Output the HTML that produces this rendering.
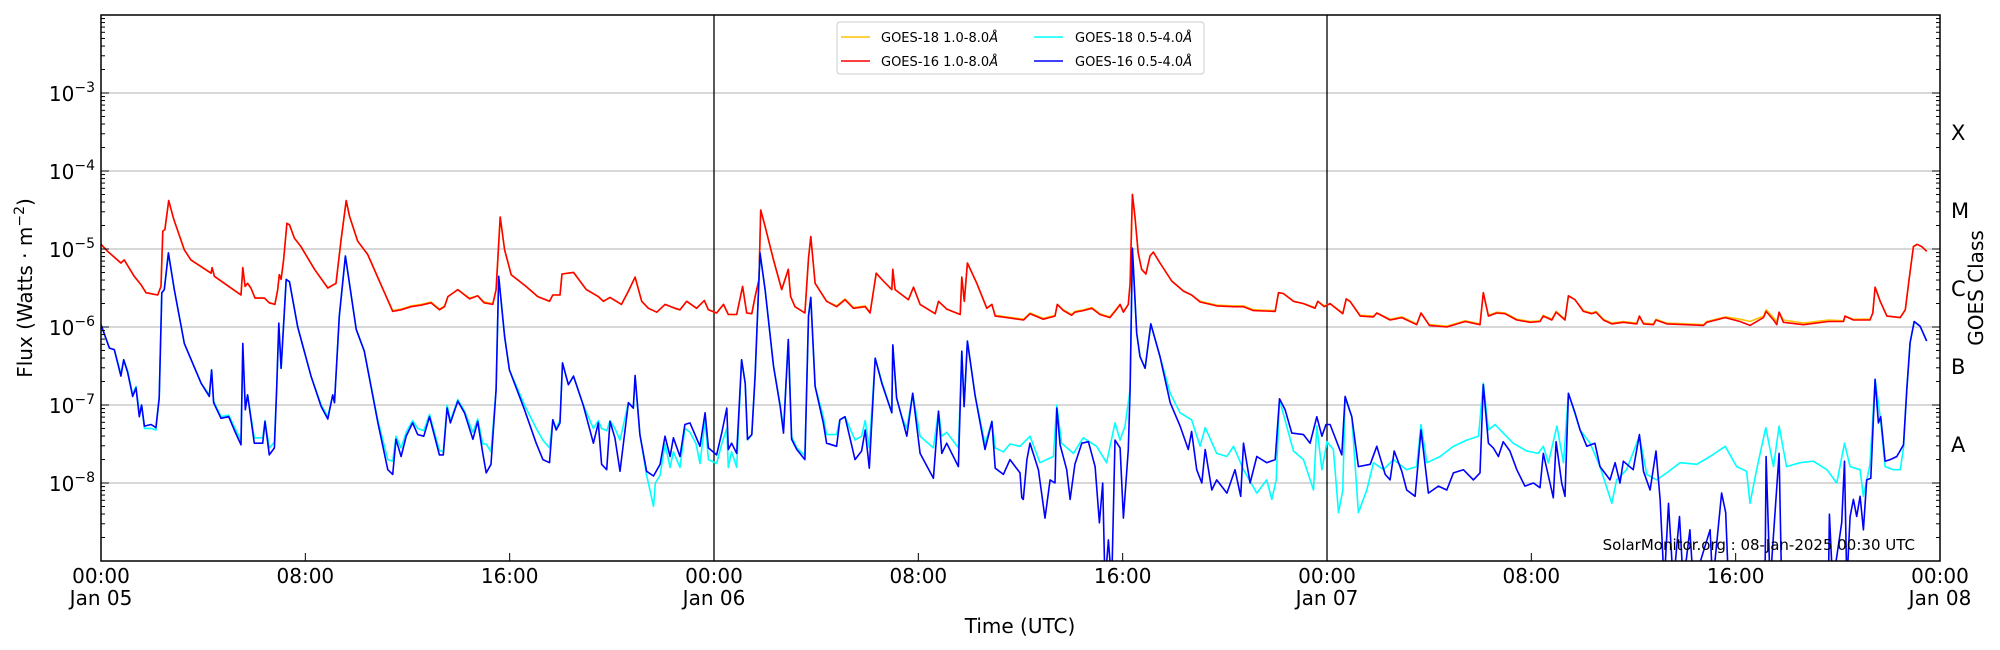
<!DOCTYPE html>
<html><head><meta charset="utf-8"><style>
html,body{margin:0;padding:0;background:#fff;}
svg{display:block;font-family:"DejaVu Sans","Liberation Sans",sans-serif;}
</style></head><body>
<svg id="chart" width="2000" height="650" viewBox="0 0 2000 650" xmlns="http://www.w3.org/2000/svg">
<rect x="0" y="0" width="2000" height="650" fill="#fff"/>
<defs><clipPath id="plotclip"><rect x="101" y="15" width="1839" height="546"/></clipPath></defs>
<g id="grid"></g>
<g id="vlines"></g>
<g id="series" clip-path="url(#plotclip)"></g>
<g id="axes"></g>
<text x="1915" y="550" font-size="15" text-anchor="end" fill="#000">SolarMonitor.org : 08-Jan-2025 00:30 UTC</text>
<text x="1020" y="633" font-size="20" text-anchor="middle">Time (UTC)</text>
<text transform="translate(32,288) rotate(-90)" font-size="20" text-anchor="middle">Flux (Watts · m<tspan dy="-8" font-size="14">−2</tspan><tspan dy="8">)</tspan></text>
<text transform="translate(1983,288) rotate(-90)" font-size="20" text-anchor="middle">GOES Class</text>
<g>
<rect x="837" y="22" width="367" height="52" rx="3" fill="#fff" stroke="#ccc" stroke-width="1"/>
<g><line x1="841" y1="37" x2="870" y2="37" stroke="#ffc000" stroke-width="1.5"/><text x="881" y="42" font-size="13">GOES-18 1.0-8.0<tspan font-style="italic">Å</tspan></text></g>
<g><line x1="841" y1="61" x2="870" y2="61" stroke="#ff0000" stroke-width="1.5"/><text x="881" y="66" font-size="13">GOES-16 1.0-8.0<tspan font-style="italic">Å</tspan></text></g>
<g><line x1="1034" y1="37" x2="1063" y2="37" stroke="#00ffff" stroke-width="1.5"/><text x="1075" y="42" font-size="13">GOES-18 0.5-4.0<tspan font-style="italic">Å</tspan></text></g>
<g><line x1="1034" y1="61" x2="1063" y2="61" stroke="#0000ff" stroke-width="1.5"/><text x="1075" y="66" font-size="13">GOES-16 0.5-4.0<tspan font-style="italic">Å</tspan></text></g>
</g>
</svg>
<script>
// values are [hours since Jan 05 00:00, log10(flux W/m^2)]
const xTickHours = [0, 8, 16, 24, 32, 40, 48, 56, 64, 72];
const xTickTimes = ["00:00","08:00","16:00","00:00","08:00","16:00","00:00","08:00","16:00","00:00"];
const xTickDates = ["Jan 05","","","Jan 06","","","Jan 07","","","Jan 08"];
const yTickExps = [-3, -4, -5, -6, -7, -8];
const classLabels = ["X","M","C","B","A"];
const classLogs = [-3.5, -4.5, -5.5, -6.5, -7.5];
const dayBoundaries = [24, 48];

const goes16Long = [[0,-4.94],[.26,-5.03],[.78,-5.18],[.91,-5.14],[1.3,-5.35],[1.57,-5.46],[1.76,-5.56],[2.22,-5.59],[2.35,-5.48],[2.42,-4.77],[2.5,-4.75],[2.65,-4.38],[2.85,-4.62],[3.26,-5.01],[3.52,-5.14],[4.31,-5.31],[4.35,-5.24],[4.44,-5.35],[4.96,-5.47],[5.48,-5.59],[5.55,-5.24],[5.64,-5.48],[5.74,-5.44],[5.87,-5.5],[6.03,-5.63],[6.4,-5.63],[6.59,-5.69],[6.81,-5.71],[6.92,-5.52],[6.98,-5.33],[7.05,-5.39],[7.15,-5.14],[7.28,-4.67],[7.38,-4.69],[7.57,-4.86],[7.83,-4.97],[8.36,-5.26],[8.88,-5.5],[9.2,-5.44],[9.4,-4.88],[9.6,-4.38],[9.73,-4.58],[10.05,-4.9],[10.44,-5.07],[11.1,-5.56],[11.42,-5.8],[11.75,-5.78],[12.14,-5.74],[12.53,-5.72],[12.92,-5.69],[13.25,-5.78],[13.45,-5.74],[13.58,-5.61],[13.97,-5.52],[14.43,-5.64],[14.75,-5.6],[15.0,-5.69],[15.34,-5.71],[15.47,-5.52],[15.63,-4.59],[15.8,-5.01],[16.06,-5.33],[16.64,-5.48],[17.1,-5.61],[17.56,-5.67],[17.69,-5.59],[17.97,-5.59],[18.05,-5.32],[18.5,-5.3],[19.0,-5.52],[19.47,-5.61],[19.67,-5.67],[19.93,-5.62],[20.38,-5.71],[20.65,-5.54],[20.91,-5.36],[21.17,-5.67],[21.43,-5.76],[21.76,-5.81],[22.08,-5.71],[22.47,-5.76],[22.67,-5.78],[22.93,-5.67],[23.32,-5.76],[23.62,-5.66],[23.78,-5.78],[24.1,-5.82],[24.37,-5.71],[24.56,-5.84],[24.89,-5.84],[25.12,-5.48],[25.28,-5.82],[25.48,-5.83],[25.61,-5.61],[25.76,-5.39],[25.83,-4.5],[26.0,-4.71],[26.33,-5.14],[26.65,-5.52],[26.91,-5.26],[27.0,-5.61],[27.17,-5.74],[27.56,-5.82],[27.7,-5.12],[27.79,-4.84],[27.96,-5.44],[28.41,-5.67],[28.8,-5.74],[29.13,-5.65],[29.46,-5.76],[29.92,-5.74],[30.11,-5.82],[30.35,-5.31],[30.63,-5.41],[30.96,-5.52],[31.0,-5.26],[31.09,-5.52],[31.61,-5.65],[31.81,-5.49],[32.07,-5.71],[32.66,-5.83],[32.79,-5.67],[33.11,-5.77],[33.64,-5.84],[33.7,-5.36],[33.8,-5.67],[33.92,-5.18],[34.29,-5.44],[34.68,-5.76],[34.88,-5.71],[35.01,-5.86],[35.46,-5.88],[36.12,-5.91],[36.37,-5.83],[36.89,-5.9],[37.35,-5.86],[37.44,-5.71],[37.68,-5.79],[38.0,-5.85],[38.13,-5.81],[38.46,-5.79],[38.79,-5.76],[39.11,-5.84],[39.5,-5.88],[39.77,-5.77],[39.9,-5.71],[40.03,-5.81],[40.22,-5.71],[40.29,-5.44],[40.38,-4.3],[40.48,-4.58],[40.61,-5.05],[40.74,-5.26],[40.91,-5.32],[41.07,-5.09],[41.2,-5.04],[41.46,-5.18],[41.92,-5.41],[42.38,-5.54],[42.7,-5.59],[43.03,-5.68],[43.68,-5.73],[44.34,-5.74],[44.73,-5.74],[45.12,-5.79],[45.97,-5.8],[46.1,-5.56],[46.29,-5.57],[46.69,-5.67],[47.08,-5.7],[47.53,-5.76],[47.64,-5.67],[47.89,-5.74],[48.12,-5.7],[48.62,-5.83],[48.75,-5.64],[48.9,-5.67],[49.3,-5.86],[49.82,-5.87],[49.95,-5.82],[50.47,-5.91],[50.93,-5.88],[51.51,-5.97],[51.68,-5.82],[52.01,-5.98],[52.69,-6.0],[53.41,-5.93],[53.99,-5.97],[54.12,-5.56],[54.32,-5.86],[54.64,-5.82],[54.97,-5.83],[55.43,-5.91],[55.95,-5.94],[56.34,-5.93],[56.47,-5.86],[56.8,-5.91],[56.97,-5.81],[57.32,-5.91],[57.45,-5.6],[57.71,-5.65],[58.04,-5.8],[58.36,-5.83],[58.53,-5.81],[58.82,-5.91],[59.15,-5.96],[59.6,-5.94],[60.13,-5.96],[60.23,-5.86],[60.39,-5.96],[60.78,-5.97],[60.88,-5.91],[61.3,-5.96],[62.08,-5.97],[62.74,-5.98],[62.87,-5.94],[63.59,-5.88],[64.17,-5.93],[64.56,-5.98],[65.09,-5.88],[65.19,-5.8],[65.48,-5.91],[65.61,-5.97],[65.7,-5.81],[65.87,-5.94],[66.65,-5.97],[67.63,-5.93],[68.22,-5.93],[68.28,-5.86],[68.61,-5.91],[69.26,-5.91],[69.37,-5.82],[69.46,-5.49],[69.66,-5.67],[69.92,-5.86],[70.44,-5.88],[70.64,-5.78],[70.77,-5.44],[70.96,-4.97],[71.1,-4.94],[71.29,-4.97],[71.48,-5.03]];

const goes18Long = [[0,-4.94],[.26,-5.03],[.78,-5.18],[.91,-5.14],[1.3,-5.35],[1.57,-5.46],[1.76,-5.56],[2.22,-5.59],[2.35,-5.48],[2.42,-4.77],[2.5,-4.75],[2.65,-4.38],[2.85,-4.62],[3.26,-5.01],[3.52,-5.14],[4.31,-5.31],[4.35,-5.24],[4.44,-5.35],[4.96,-5.47],[5.48,-5.59],[5.55,-5.24],[5.64,-5.48],[5.74,-5.44],[5.87,-5.5],[6.03,-5.63],[6.4,-5.63],[6.59,-5.69],[6.81,-5.71],[6.92,-5.52],[6.98,-5.33],[7.05,-5.39],[7.15,-5.14],[7.28,-4.67],[7.38,-4.69],[7.57,-4.86],[7.83,-4.97],[8.36,-5.26],[8.88,-5.5],[9.2,-5.44],[9.4,-4.88],[9.6,-4.38],[9.73,-4.58],[10.05,-4.9],[10.44,-5.07],[11.1,-5.56],[11.42,-5.79],[11.75,-5.77],[12.14,-5.73],[12.53,-5.71],[12.92,-5.68],[13.25,-5.77],[13.45,-5.73],[13.58,-5.61],[13.97,-5.52],[14.43,-5.63],[14.75,-5.6],[15.0,-5.68],[15.34,-5.7],[15.47,-5.52],[15.63,-4.59],[15.8,-5.01],[16.06,-5.33],[16.64,-5.48],[17.1,-5.61],[17.56,-5.67],[17.69,-5.59],[17.97,-5.59],[18.05,-5.32],[18.5,-5.3],[19.0,-5.52],[19.47,-5.61],[19.67,-5.67],[19.93,-5.62],[20.38,-5.71],[20.65,-5.54],[20.91,-5.36],[21.17,-5.67],[21.43,-5.76],[21.76,-5.81],[22.08,-5.71],[22.47,-5.76],[22.67,-5.78],[22.93,-5.67],[23.32,-5.76],[23.62,-5.66],[23.78,-5.78],[24.1,-5.82],[24.37,-5.71],[24.56,-5.84],[24.89,-5.84],[25.12,-5.48],[25.28,-5.82],[25.48,-5.83],[25.61,-5.61],[25.76,-5.39],[25.83,-4.5],[26.0,-4.71],[26.33,-5.14],[26.65,-5.52],[26.91,-5.26],[27.0,-5.61],[27.17,-5.74],[27.56,-5.82],[27.7,-5.12],[27.79,-4.84],[27.96,-5.44],[28.41,-5.67],[28.8,-5.73],[29.13,-5.64],[29.46,-5.75],[29.92,-5.73],[30.11,-5.81],[30.35,-5.31],[30.63,-5.41],[30.96,-5.52],[31.0,-5.26],[31.09,-5.52],[31.61,-5.65],[31.81,-5.49],[32.07,-5.71],[32.66,-5.83],[32.79,-5.67],[33.11,-5.77],[33.64,-5.84],[33.7,-5.36],[33.8,-5.67],[33.92,-5.18],[34.29,-5.44],[34.68,-5.76],[34.88,-5.71],[35.01,-5.85],[35.46,-5.87],[36.12,-5.9],[36.37,-5.82],[36.89,-5.89],[37.35,-5.85],[37.44,-5.71],[37.68,-5.78],[38.0,-5.84],[38.13,-5.8],[38.46,-5.78],[38.79,-5.75],[39.11,-5.83],[39.5,-5.87],[39.77,-5.76],[39.9,-5.71],[40.03,-5.8],[40.22,-5.71],[40.29,-5.44],[40.38,-4.3],[40.48,-4.58],[40.61,-5.05],[40.74,-5.26],[40.91,-5.32],[41.07,-5.09],[41.2,-5.04],[41.46,-5.18],[41.92,-5.41],[42.38,-5.54],[42.7,-5.59],[43.03,-5.67],[43.68,-5.72],[44.34,-5.73],[44.73,-5.73],[45.12,-5.78],[45.97,-5.79],[46.1,-5.56],[46.29,-5.57],[46.69,-5.67],[47.08,-5.7],[47.53,-5.75],[47.64,-5.67],[47.89,-5.73],[48.12,-5.7],[48.62,-5.82],[48.75,-5.64],[48.9,-5.67],[49.3,-5.85],[49.82,-5.86],[49.95,-5.82],[50.47,-5.9],[50.93,-5.87],[51.51,-5.96],[51.68,-5.82],[52.01,-5.97],[52.69,-5.99],[53.41,-5.92],[53.99,-5.96],[54.12,-5.56],[54.32,-5.85],[54.64,-5.81],[54.97,-5.82],[55.43,-5.9],[55.95,-5.93],[56.34,-5.92],[56.47,-5.85],[56.8,-5.9],[56.97,-5.8],[57.32,-5.9],[57.45,-5.6],[57.71,-5.65],[58.04,-5.79],[58.36,-5.82],[58.53,-5.8],[58.82,-5.9],[59.15,-5.95],[59.6,-5.93],[60.13,-5.95],[60.23,-5.86],[60.39,-5.95],[60.78,-5.96],[60.88,-5.9],[61.3,-5.95],[62.08,-5.96],[62.74,-5.97],[62.87,-5.93],[63.59,-5.87],[64.17,-5.9],[64.56,-5.93],[65.09,-5.86],[65.19,-5.78],[65.48,-5.88],[65.61,-5.93],[65.7,-5.81],[65.87,-5.91],[66.65,-5.95],[67.63,-5.91],[68.22,-5.92],[68.28,-5.86],[68.61,-5.9],[69.26,-5.9],[69.37,-5.82],[69.46,-5.49],[69.66,-5.67],[69.92,-5.86],[70.44,-5.88],[70.64,-5.78],[70.77,-5.44],[70.96,-4.97],[71.1,-4.94],[71.29,-4.97],[71.48,-5.03]];

const goes16Short = [[0,-5.97],[.33,-6.27],[.52,-6.29],[.78,-6.63],[.89,-6.42],[1.04,-6.58],[1.24,-6.89],[1.37,-6.78],[1.5,-7.15],[1.59,-7.0],[1.7,-7.27],[1.96,-7.25],[2.15,-7.29],[2.28,-6.91],[2.38,-5.56],[2.48,-5.52],[2.64,-5.05],[2.87,-5.52],[3.26,-6.21],[3.92,-6.72],[4.24,-6.89],[4.33,-6.55],[4.41,-6.97],[4.7,-7.17],[5.0,-7.15],[5.22,-7.32],[5.48,-7.51],[5.55,-6.21],[5.65,-7.06],[5.74,-6.87],[6.0,-7.49],[6.33,-7.49],[6.42,-7.21],[6.59,-7.64],[6.79,-7.55],[6.88,-6.78],[6.96,-5.95],[7.05,-6.53],[7.25,-5.39],[7.38,-5.42],[7.7,-6.0],[8.22,-6.63],[8.62,-7.02],[8.88,-7.18],[9.07,-6.87],[9.14,-6.97],[9.33,-5.86],[9.57,-5.09],[9.99,-6.03],[10.31,-6.31],[10.84,-7.23],[11.23,-7.83],[11.42,-7.89],[11.55,-7.44],[11.75,-7.66],[11.95,-7.4],[12.2,-7.23],[12.4,-7.38],[12.64,-7.4],[12.86,-7.15],[13.25,-7.64],[13.4,-7.64],[13.55,-7.04],[13.68,-7.23],[13.97,-6.95],[14.23,-7.1],[14.56,-7.44],[14.75,-7.21],[14.95,-7.62],[15.08,-7.87],[15.27,-7.76],[15.47,-6.8],[15.57,-5.35],[15.8,-6.12],[15.99,-6.55],[16.58,-7.06],[17.04,-7.49],[17.3,-7.7],[17.56,-7.74],[17.69,-7.19],[17.82,-7.32],[17.97,-7.23],[18.07,-6.46],[18.3,-6.74],[18.5,-6.63],[18.88,-7.0],[19.28,-7.49],[19.47,-7.23],[19.6,-7.76],[19.8,-7.83],[19.93,-7.21],[20.12,-7.42],[20.32,-7.85],[20.65,-6.97],[20.84,-7.04],[20.91,-6.62],[21.1,-7.38],[21.36,-7.85],[21.63,-7.91],[21.89,-7.76],[22.08,-7.4],[22.28,-7.66],[22.41,-7.42],[22.67,-7.66],[22.86,-7.25],[23.06,-7.23],[23.45,-7.53],[23.65,-7.1],[23.78,-7.55],[24.1,-7.64],[24.3,-7.36],[24.5,-7.04],[24.56,-7.57],[24.69,-7.49],[24.89,-7.62],[25.08,-6.42],[25.22,-6.72],[25.31,-7.44],[25.48,-7.38],[25.61,-6.63],[25.8,-5.05],[26.0,-5.52],[26.33,-6.5],[26.59,-7.02],[26.72,-7.36],[26.91,-6.16],[27.04,-7.44],[27.24,-7.57],[27.56,-7.7],[27.7,-5.86],[27.79,-5.62],[27.96,-6.76],[28.28,-7.23],[28.41,-7.49],[28.8,-7.53],[28.93,-7.19],[29.13,-7.15],[29.52,-7.7],[29.78,-7.59],[29.92,-7.32],[30.08,-7.81],[30.31,-6.4],[30.57,-6.72],[30.96,-7.1],[31.0,-6.23],[31.15,-6.91],[31.35,-7.15],[31.55,-7.4],[31.78,-6.85],[32.07,-7.62],[32.59,-7.94],[32.79,-7.08],[32.92,-7.62],[33.11,-7.49],[33.57,-7.79],[33.7,-6.31],[33.79,-7.02],[33.92,-6.18],[34.22,-6.87],[34.61,-7.57],[34.88,-7.21],[35.01,-7.81],[35.33,-7.89],[35.59,-7.7],[35.98,-7.87],[36.05,-8.19],[36.11,-8.21],[36.25,-7.7],[36.37,-7.49],[36.7,-7.83],[36.96,-8.45],[37.16,-7.96],[37.35,-8.0],[37.42,-7.04],[37.55,-7.51],[37.81,-7.83],[37.94,-8.21],[38.13,-7.76],[38.4,-7.49],[38.66,-7.47],[38.92,-7.79],[39.09,-8.51],[39.22,-8.0],[39.31,-9.3],[39.44,-8.73],[39.57,-9.3],[39.7,-7.45],[39.9,-7.55],[40.03,-8.45],[40.22,-7.57],[40.29,-6.8],[40.38,-4.99],[40.55,-6.08],[40.68,-6.38],[40.88,-6.53],[41.1,-5.96],[41.46,-6.38],[41.86,-6.97],[42.25,-7.27],[42.57,-7.57],[42.7,-7.34],[42.9,-7.83],[43.1,-8.0],[43.23,-7.57],[43.49,-8.09],[43.68,-7.96],[44.08,-8.13],[44.4,-7.83],[44.62,-8.17],[44.73,-7.49],[44.99,-8.0],[45.25,-7.66],[45.64,-7.74],[45.97,-7.7],[46.14,-6.92],[46.36,-7.06],[46.62,-7.36],[47.08,-7.38],[47.34,-7.49],[47.6,-7.15],[47.8,-7.4],[47.96,-7.25],[48.12,-7.25],[48.58,-7.64],[48.71,-6.89],[48.97,-7.15],[49.23,-7.79],[49.69,-7.76],[49.95,-7.53],[50.28,-7.89],[50.47,-7.96],[50.63,-7.59],[50.93,-7.85],[51.12,-8.09],[51.45,-8.17],[51.68,-7.32],[51.97,-8.13],[52.36,-8.04],[52.69,-8.09],[52.95,-7.87],[53.34,-7.83],[53.73,-7.96],[53.99,-7.87],[54.12,-6.74],[54.32,-7.49],[54.51,-7.55],[54.71,-7.66],[54.9,-7.47],[55.16,-7.59],[55.43,-7.83],[55.75,-8.04],[56.08,-8.0],[56.34,-8.06],[56.47,-7.62],[56.73,-8.0],[56.86,-8.19],[56.97,-7.47],[57.19,-8.0],[57.32,-8.17],[57.45,-6.85],[57.71,-7.1],[57.91,-7.32],[58.17,-7.53],[58.49,-7.49],[58.69,-7.79],[59.08,-7.96],[59.28,-7.74],[59.47,-8.0],[59.6,-7.72],[59.99,-7.83],[60.23,-7.38],[60.39,-7.85],[60.65,-8.09],[60.88,-7.59],[61.04,-8.21],[61.2,-9.3],[61.37,-8.26],[61.56,-9.3],[61.8,-8.43],[61.95,-9.3],[62.21,-8.6],[62.34,-9.3],[63.0,-8.6],[63.1,-9.3],[63.45,-8.13],[63.61,-8.38],[63.72,-9.3],[65.15,-9.3],[65.19,-7.66],[65.35,-9.3],[65.7,-7.62],[65.8,-9.3],[67.63,-9.3],[67.67,-8.4],[67.8,-9.3],[68.15,-8.51],[68.26,-7.72],[68.35,-9.3],[68.48,-8.43],[68.61,-8.21],[68.74,-8.43],[68.87,-8.17],[69.0,-8.6],[69.13,-7.96],[69.29,-7.94],[69.46,-6.67],[69.59,-7.23],[69.68,-7.15],[69.85,-7.72],[70.05,-7.7],[70.31,-7.66],[70.57,-7.51],[70.7,-6.8],[70.83,-6.2],[70.99,-5.93],[71.22,-5.99],[71.48,-6.18]];

const goes18Short = [[0,-5.97],[.33,-6.27],[.52,-6.29],[.78,-6.6],[.89,-6.42],[1.04,-6.56],[1.24,-6.87],[1.37,-6.76],[1.5,-7.1],[1.59,-7.0],[1.7,-7.3],[1.96,-7.3],[2.15,-7.32],[2.28,-6.91],[2.38,-5.56],[2.48,-5.52],[2.64,-5.05],[2.87,-5.52],[3.26,-6.21],[3.92,-6.72],[4.24,-6.87],[4.33,-6.55],[4.41,-6.95],[4.7,-7.15],[5.0,-7.13],[5.22,-7.28],[5.48,-7.45],[5.55,-6.3],[5.65,-7.0],[5.74,-6.87],[6.0,-7.42],[6.33,-7.42],[6.42,-7.2],[6.59,-7.55],[6.79,-7.48],[6.88,-6.78],[6.96,-6.0],[7.05,-6.53],[7.25,-5.39],[7.38,-5.42],[7.7,-6.0],[8.22,-6.63],[8.62,-7.0],[8.88,-7.15],[9.07,-6.87],[9.14,-6.97],[9.33,-5.86],[9.57,-5.09],[9.99,-6.03],[10.31,-6.31],[10.84,-7.2],[11.23,-7.7],[11.42,-7.72],[11.55,-7.4],[11.75,-7.55],[11.95,-7.35],[12.2,-7.2],[12.4,-7.3],[12.64,-7.33],[12.86,-7.12],[13.25,-7.58],[13.4,-7.6],[13.55,-7.0],[13.68,-7.2],[13.97,-6.93],[14.23,-7.08],[14.56,-7.35],[14.75,-7.18],[14.95,-7.5],[15.08,-7.5],[15.27,-7.6],[15.47,-6.8],[15.57,-5.35],[15.8,-6.12],[15.99,-6.55],[16.58,-7.0],[17.04,-7.3],[17.3,-7.45],[17.56,-7.55],[17.69,-7.19],[17.82,-7.3],[17.97,-7.19],[18.07,-6.46],[18.3,-6.74],[18.5,-6.63],[18.88,-7.0],[19.28,-7.3],[19.47,-7.2],[19.6,-7.3],[19.8,-7.33],[19.93,-7.2],[20.12,-7.3],[20.32,-7.45],[20.65,-6.97],[20.84,-7.04],[20.91,-6.65],[21.1,-7.38],[21.36,-7.9],[21.5,-8.1],[21.63,-8.3],[21.7,-8.0],[21.89,-7.9],[22.08,-7.5],[22.28,-7.8],[22.41,-7.6],[22.67,-7.8],[22.86,-7.3],[23.06,-7.35],[23.3,-7.5],[23.45,-7.75],[23.65,-7.2],[23.78,-7.7],[24.1,-7.75],[24.3,-7.5],[24.5,-7.3],[24.56,-7.8],[24.69,-7.6],[24.89,-7.8],[25.08,-6.42],[25.22,-6.72],[25.31,-7.45],[25.48,-7.38],[25.61,-6.63],[25.8,-5.05],[26.0,-5.52],[26.33,-6.5],[26.59,-7.0],[26.72,-7.3],[26.91,-6.16],[27.04,-7.4],[27.24,-7.55],[27.56,-7.65],[27.7,-5.86],[27.79,-5.62],[27.96,-6.76],[28.28,-7.15],[28.41,-7.38],[28.8,-7.38],[28.93,-7.19],[29.13,-7.15],[29.52,-7.45],[29.78,-7.4],[29.92,-7.2],[30.08,-7.55],[30.31,-6.4],[30.57,-6.7],[30.96,-7.1],[31.0,-6.23],[31.15,-6.91],[31.35,-7.15],[31.55,-7.3],[31.78,-6.85],[32.07,-7.4],[32.59,-7.55],[32.79,-7.08],[32.92,-7.4],[33.11,-7.35],[33.57,-7.55],[33.7,-6.31],[33.79,-7.02],[33.92,-6.18],[34.22,-6.87],[34.61,-7.5],[34.88,-7.21],[35.01,-7.55],[35.33,-7.6],[35.59,-7.5],[35.98,-7.53],[36.37,-7.4],[36.76,-7.74],[37.29,-7.66],[37.42,-7.0],[37.61,-7.49],[38.07,-7.62],[38.46,-7.42],[38.98,-7.53],[39.37,-7.74],[39.7,-7.23],[39.9,-7.45],[40.09,-7.27],[40.29,-6.8],[40.38,-4.99],[40.55,-6.08],[40.68,-6.38],[40.88,-6.53],[41.1,-5.96],[41.46,-6.38],[41.86,-6.85],[42.25,-7.1],[42.7,-7.19],[43.03,-7.53],[43.23,-7.29],[43.68,-7.62],[44.08,-7.66],[44.34,-7.53],[44.73,-7.83],[45.25,-8.13],[45.64,-7.96],[45.84,-8.21],[46.01,-7.96],[46.14,-6.93],[46.42,-7.27],[46.69,-7.59],[47.08,-7.7],[47.47,-8.09],[47.6,-7.27],[47.8,-7.83],[48.0,-7.47],[48.25,-7.57],[48.45,-8.38],[48.62,-8.09],[48.71,-6.91],[48.97,-7.15],[49.23,-8.38],[49.56,-8.09],[49.82,-7.74],[50.21,-7.83],[50.6,-7.7],[51.12,-7.83],[51.51,-7.79],[51.68,-7.25],[51.91,-7.74],[52.43,-7.66],[52.95,-7.53],[53.47,-7.45],[53.93,-7.4],[54.12,-6.72],[54.32,-7.32],[54.58,-7.25],[54.9,-7.36],[55.29,-7.49],[55.82,-7.59],[56.27,-7.62],[56.47,-7.53],[56.67,-7.74],[57.0,-7.27],[57.26,-7.74],[57.45,-6.85],[57.91,-7.32],[58.3,-7.49],[58.69,-7.79],[59.15,-8.26],[59.34,-7.96],[59.73,-7.83],[60.23,-7.4],[60.52,-7.89],[60.91,-7.96],[61.3,-7.87],[61.82,-7.74],[62.48,-7.76],[63.0,-7.66],[63.59,-7.53],[64.04,-7.79],[64.43,-7.85],[64.56,-8.26],[64.82,-7.83],[65.18,-7.29],[65.48,-7.79],[65.7,-7.27],[65.99,-7.79],[66.52,-7.74],[67.04,-7.72],[67.57,-7.83],[67.96,-8.0],[68.26,-7.49],[68.48,-7.79],[68.87,-7.83],[69.0,-8.17],[69.26,-7.76],[69.46,-6.67],[69.66,-7.15],[69.85,-7.79],[70.18,-7.83],[70.44,-7.83],[70.57,-7.55],[70.7,-6.8],[70.83,-6.2],[70.99,-5.93],[71.22,-5.99],[71.48,-6.18]];

const NS = "http://www.w3.org/2000/svg";
const PL = 101, PR = 1940, PT = 15, PB = 561;
const H0 = 0, H1 = 72, LMAX = -2, LMIN = -9;
function xScale(h){ return PL + (h - H0) / (H1 - H0) * (PR - PL); }
function yScale(lv){ return PT + (LMAX - lv) / (LMAX - LMIN) * (PB - PT); }
function mk(tag, attrs, parent){ const e = document.createElementNS(NS, tag); for (const k in attrs) e.setAttribute(k, attrs[k]); parent.appendChild(e); return e; }

const grid = document.getElementById('grid');
const axes = document.getElementById('axes');
const seriesG = document.getElementById('series');
const vlines = document.getElementById('vlines');

yTickExps.forEach(function(ex){
  const y = yScale(ex);
  const gl = mk('line', {x1:PL, x2:PR, y1:y, y2:y, stroke:'#b0b0b0', 'stroke-width':1}, grid);
  
  
  const t = mk('text', {x:95, y:y+8, 'font-size':20, 'text-anchor':'end'}, axes);
  
  
  t.innerHTML = '10<tspan dy="-9" font-size="14">−' + Math.abs(ex) + '</tspan>';
});

dayBoundaries.forEach(function(h){
  const x = xScale(h);
  const l = mk('line', {x1:x, x2:x, y1:PT, y2:PB, stroke:'#000', 'stroke-width':1.3}, vlines);
  
  
});

function drawSeries(data, color, name){
  let d = '';
  data.forEach(function(p, i){ d += (i ? 'L' : 'M') + xScale(p[0]).toFixed(1) + ' ' + yScale(p[1]).toFixed(1); });
  const path = mk('path', {d:d, fill:'none', stroke:color, 'stroke-width':1.6, 'stroke-linejoin':'round'}, seriesG);
  
  
}
drawSeries(goes18Long, '#ffc000', 'goes18-long-line');
drawSeries(goes16Long, '#ff0000', 'goes16-long-line');
drawSeries(goes18Short, '#00ffff', 'goes18-short-line');
drawSeries(goes16Short, '#0000ff', 'goes16-short-line');

const frame = mk('rect', {x:PL, y:PT, width:PR-PL, height:PB-PT, fill:'none', stroke:'#000', 'stroke-width':1.5}, axes);



for (let ex = LMIN; ex < LMAX; ex++){
  for (let m = 1; m <= 9; m++){
    const lv = ex + Math.log10(m);
    const y = yScale(lv);
    const len = m === 1 ? 8 : 4;
    const tl = mk('line', {x1:PL, x2:PL+len, y1:y, y2:y, stroke:'#000', 'stroke-width':1}, axes);
    
    
    const tr = mk('line', {x1:PR-len, x2:PR, y1:y, y2:y, stroke:'#000', 'stroke-width':1}, axes);
    
    
  }
}

classLabels.forEach(function(c, i){
  const t = mk('text', {x:1951, y:yScale(classLogs[i])+8, 'font-size':21}, axes);
  
  
  t.textContent = c;
});

xTickHours.forEach(function(h, i){
  const x = xScale(h);
  const tk = mk('line', {x1:x, x2:x, y1:PB-8, y2:PB, stroke:'#000', 'stroke-width':1}, axes);
  
  
  const t1 = mk('text', {x:x, y:583, 'font-size':20, 'text-anchor':'middle'}, axes);
  
  
  t1.textContent = xTickTimes[i];
  if (xTickDates[i]){
    const t2 = mk('text', {x:x, y:605, 'font-size':20, 'text-anchor':'middle'}, axes);
    
    
    t2.textContent = xTickDates[i];
  }
});
</script>
</body></html>
